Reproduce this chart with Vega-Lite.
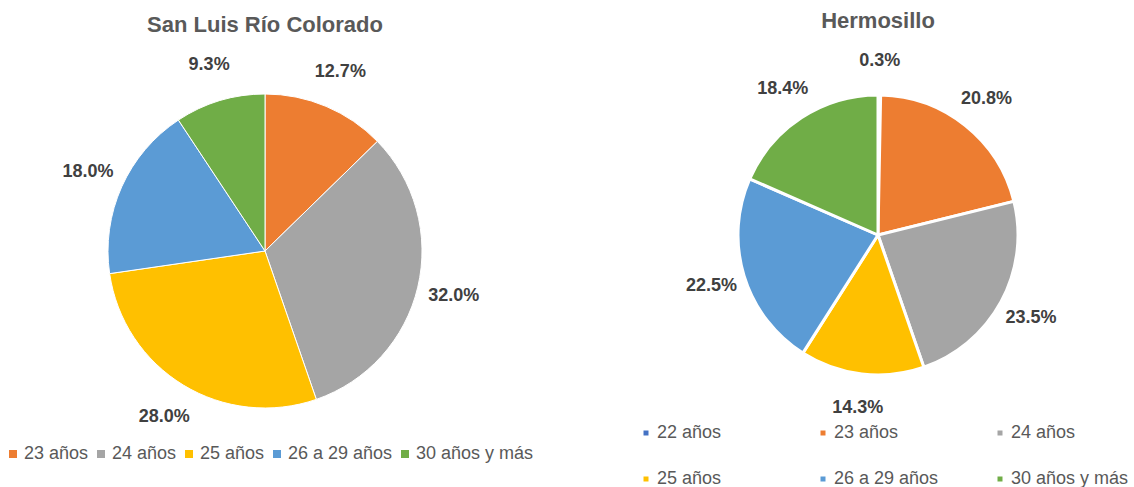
{
  "$schema": "https://vega.github.io/schema/vega-lite/v6.json",
  "background": "white",
  "padding": {"left": 0, "top": 10, "right": 0, "bottom": 0},
  "spacing": 99,
  "config": {
    "view": {"stroke": null},
    "font": "Liberation Sans",
    "title": {"fontSize": 22, "fontWeight": "bold", "color": "#595959", "offset": 19, "anchor": "middle"}
  },
  "data": {
    "values": [
      {"ciudad": "San Luis Río Colorado", "edad": "23 años", "pct": 0.127},
      {"ciudad": "San Luis Río Colorado", "edad": "24 años", "pct": 0.320},
      {"ciudad": "San Luis Río Colorado", "edad": "25 años", "pct": 0.280},
      {"ciudad": "San Luis Río Colorado", "edad": "26 a 29 años", "pct": 0.180},
      {"ciudad": "San Luis Río Colorado", "edad": "30 años y más", "pct": 0.093},
      {"ciudad": "Hermosillo", "edad": "22 años", "pct": 0.003},
      {"ciudad": "Hermosillo", "edad": "23 años", "pct": 0.208},
      {"ciudad": "Hermosillo", "edad": "24 años", "pct": 0.235},
      {"ciudad": "Hermosillo", "edad": "25 años", "pct": 0.143},
      {"ciudad": "Hermosillo", "edad": "26 a 29 años", "pct": 0.225},
      {"ciudad": "Hermosillo", "edad": "30 años y más", "pct": 0.184}
    ]
  },
  "resolve": {"scale": {"color": "independent", "theta": "independent"}},
  "hconcat": [
    {
      "width": 530,
      "height": 382,
      "title": {"text": "San Luis Río Colorado"},
      "transform": [{"filter": "datum.ciudad === 'San Luis Río Colorado'"}],
      "encoding": {
        "theta": {"field": "pct", "type": "quantitative", "stack": true},
        "order": {"field": "edad", "type": "ordinal", "sort": "ascending"}
      },
      "layer": [
        {
          "mark": {"type": "arc", "outerRadius": 157, "stroke": "white", "strokeWidth": 1},
          "encoding": {
            "color": {
              "field": "edad", "type": "nominal",
              "scale": {
                "domain": ["23 años", "24 años", "25 años", "26 a 29 años", "30 años y más"],
                "range": ["#ED7D31", "#A5A5A5", "#FFC000", "#5B9BD5", "#70AD47"]
              },
              "legend": {
                "title": null, "orient": "bottom", "direction": "horizontal", "columns": 5,
                "labelFontSize": 18, "labelColor": "#595959", "labelFont": "Liberation Sans",
                "symbolType": "square", "symbolSize": 64, "symbolStrokeWidth": 0,
                "labelOffset": 2, "columnPadding": 3, "padding": 4, "offset": -1
              }
            }
          }
        },
        {
          "mark": {"type": "text", "radius": 194, "fontSize": 18, "fontWeight": "bold", "fill": "#404040"},
          "encoding": {"text": {"field": "pct", "type": "quantitative", "format": ".1%"}}
        }
      ]
    },
    {
      "width": 482,
      "height": 350,
      "title": {"text": "Hermosillo"},
      "transform": [{"filter": "datum.ciudad === 'Hermosillo'"}],
      "encoding": {
        "theta": {"field": "pct", "type": "quantitative", "stack": true},
        "order": {"field": "edad", "type": "ordinal", "sort": "ascending"}
      },
      "layer": [
        {
          "mark": {"type": "arc", "outerRadius": 140, "stroke": "white", "strokeWidth": 3},
          "encoding": {
            "color": {
              "field": "edad", "type": "nominal",
              "scale": {
                "domain": ["22 años", "23 años", "24 años", "25 años", "26 a 29 años", "30 años y más"],
                "range": ["#4472C4", "#ED7D31", "#A5A5A5", "#FFC000", "#5B9BD5", "#70AD47"]
              },
              "legend": {
                "title": null, "orient": "bottom", "direction": "horizontal", "columns": 3, "gridAlign": "all",
                "labelFontSize": 18, "labelColor": "#595959", "labelFont": "Liberation Sans",
                "symbolType": "square", "symbolSize": 25, "symbolStrokeWidth": 0,
                "labelOffset": 2, "columnPadding": 39, "rowPadding": 28, "padding": 0, "offset": 14
              }
            }
          }
        },
        {
          "mark": {"type": "text", "radius": 174, "fontSize": 18, "fontWeight": "bold", "fill": "#404040"},
          "encoding": {"text": {"field": "pct", "type": "quantitative", "format": ".1%"}}
        }
      ]
    }
  ]
}
